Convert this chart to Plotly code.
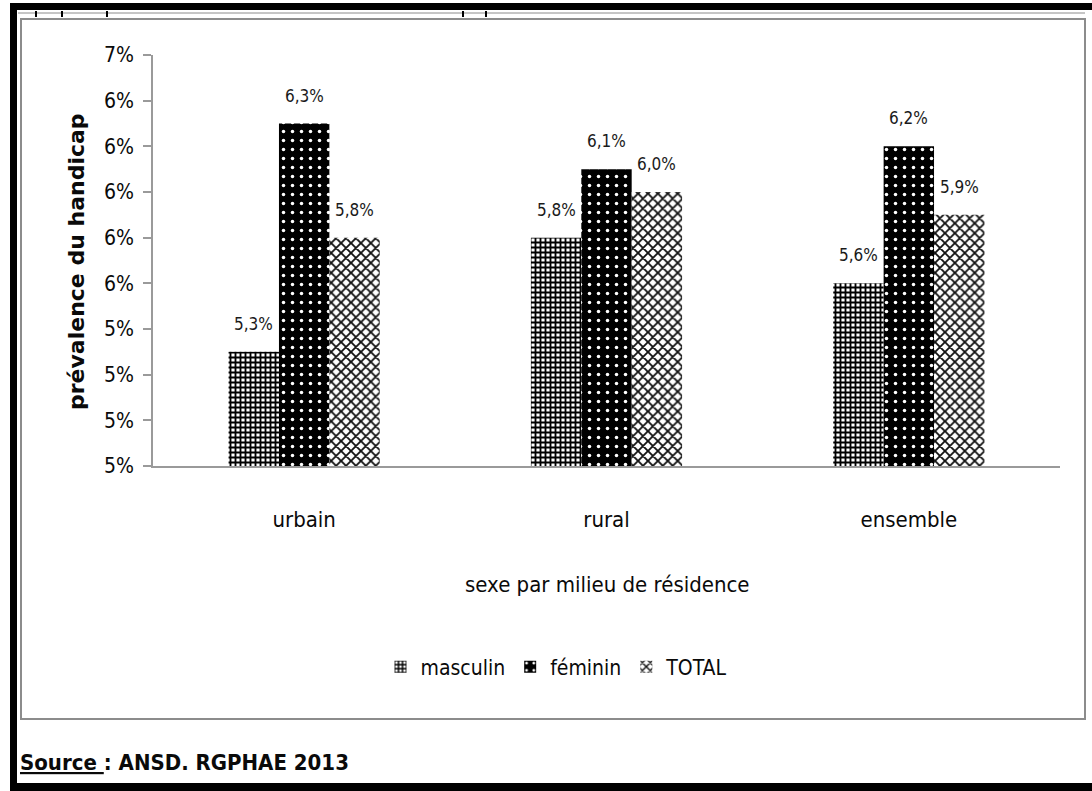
import plotly.graph_objects as go

# Prévalence du handicap (%) par milieu de résidence et par sexe
categories = ["urbain", "rural", "ensemble"]
masculin = [5.3, 5.8, 5.6]
feminin = [6.3, 6.1, 6.2]
total = [5.8, 6.0, 5.9]

series_names = ["masculin", "féminin", "TOTAL"]

# Axe vertical (valeurs affichées arrondies à l'unité, comme dans le tableur)
y_tickvals = [4.8, 5.0, 5.2, 5.4, 5.6, 5.8, 6.0, 6.2, 6.4, 6.6]
y_ticktext = ["5%", "5%", "5%", "5%", "6%", "6%", "6%", "6%", "6%", "7%"]

W, H = 1092, 791
L, R, T, B = 153, 32, 55, 325
PW, PH = W - L - R, H - T - B

COND = "DejaVu Sans Condensed, Liberation Sans Narrow, Arial Narrow, sans-serif"
TXT = "#0a0a0a"


def px_x(px):
    return (px - L) / PW


def px_y(py):
    return (H - B - py) / PH


def fmt(v):
    return f"{v:.1f}".replace(".", ",") + "%"


patterns = [
    dict(shape="+", fgcolor="black", bgcolor="white", size=5, solidity=0.6, fillmode="replace"),
    dict(shape=".", fgcolor="white", bgcolor="black", size=9, solidity=0.12, fillmode="replace"),
    dict(shape="x", fgcolor="#111111", bgcolor="white", size=7, solidity=0.45, fillmode="replace"),
]

fig = go.Figure()
for name, vals, pat in zip(series_names, [masculin, feminin, total], patterns):
    fig.add_trace(go.Bar(
        name=name, x=categories, y=vals,
        marker=dict(color="white", pattern=pat, line=dict(width=0)),
        hoverinfo="skip",
    ))

# Étiquettes de valeurs au-dessus des barres
bargap = 0.5
slot = PW / len(categories)
bar_w = slot * (1 - bargap) / 3
for i, vals in enumerate([masculin, feminin, total]):
    for cat, v in zip(categories, vals):
        fig.add_annotation(
            x=cat, y=v, xref="x", yref="y", text=fmt(v), showarrow=False,
            xshift=(i - 1) * bar_w, yshift=16, yanchor="bottom",
            font=dict(family=COND, size=17, color="#1a1a1a"),
        )

fig.update_layout(
    width=W, height=H,
    margin=dict(l=L, r=R, t=T, b=B, pad=0),
    paper_bgcolor="white", plot_bgcolor="white",
    barmode="group", bargap=bargap, bargroupgap=0,
    showlegend=True,
    legend=dict(
        orientation="h", x=px_x(557), y=px_y(667), xanchor="center", yanchor="middle",
        font=dict(family=COND, size=21, color=TXT),
        itemwidth=30, traceorder="normal", bgcolor="rgba(0,0,0,0)",
    ),
    xaxis=dict(
        showgrid=False, showline=True, linecolor="#9a9a9a", linewidth=1.5,
        ticks="", ticklabelstandoff=33,
        tickfont=dict(family=COND, size=22, color=TXT),
    ),
    yaxis=dict(
        range=[4.8, 6.6], tickvals=y_tickvals, ticktext=y_ticktext,
        showgrid=False, zeroline=False, showline=True, linecolor="#9a9a9a", linewidth=1.5,
        ticks="outside", ticklen=8, tickcolor="#9a9a9a", tickwidth=1.5,
        ticklabelstandoff=5,
        tickfont=dict(family=COND, size=21, color=TXT),
    ),
)

# Titres des axes
fig.add_annotation(
    text="sexe par milieu de résidence", xref="paper", yref="paper",
    x=px_x(607), y=px_y(584), showarrow=False, xanchor="center", yanchor="middle",
    font=dict(family=COND, size=22, color=TXT),
)
fig.add_annotation(
    text="<b>prévalence du handicap</b>", xref="paper", yref="paper",
    x=px_x(76), y=px_y(262), showarrow=False, textangle=-90,
    xanchor="center", yanchor="middle",
    font=dict(family="DejaVu Sans, Verdana, sans-serif", size=22, color=TXT),
)

# Source
fig.add_annotation(
    text="<b><u>Source </u>: ANSD. RGPHAE 2013</b>", xref="paper", yref="paper",
    x=px_x(18), y=px_y(762), showarrow=False, xanchor="left", yanchor="middle",
    font=dict(family=COND, size=22, color=TXT),
)

# Cadre du graphique et bordures du document
shapes = [
    dict(type="rect", x0=px_x(21), x1=px_x(1085), y0=px_y(19), y1=px_y(719),
         line=dict(color="#8c8c8c", width=2), fillcolor="rgba(0,0,0,0)"),
    dict(type="line", x0=px_x(18), x1=px_x(1085), y0=px_y(13), y1=px_y(13),
         line=dict(color="#8c8c8c", width=1)),
    dict(type="rect", x0=px_x(10), x1=px_x(1092), y0=px_y(3), y1=px_y(10),
         line=dict(width=0), fillcolor="black"),
    dict(type="rect", x0=px_x(10), x1=px_x(17), y0=px_y(3), y1=px_y(791),
         line=dict(width=0), fillcolor="black"),
    dict(type="rect", x0=px_x(10), x1=px_x(1092), y0=px_y(783), y1=px_y(791),
         line=dict(width=0), fillcolor="black"),
]
for xm in [36, 62, 107, 463, 486]:
    shapes.append(dict(type="line", x0=px_x(xm), x1=px_x(xm), y0=px_y(11), y1=px_y(17),
                       line=dict(color="black", width=2)))
for s in shapes:
    s.update(xref="paper", yref="paper", layer="above")
fig.update_layout(shapes=shapes)

fig.write_html("out.html")
